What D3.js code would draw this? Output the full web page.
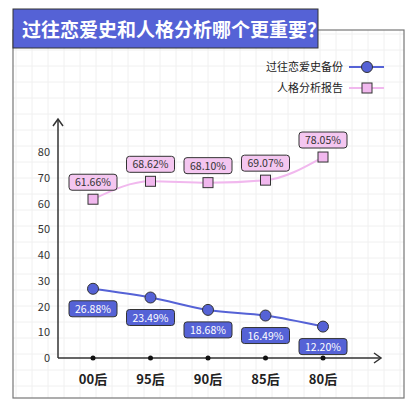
<!DOCTYPE html><html><head><meta charset="utf-8"><script src="https://cdn.jsdelivr.net/npm/d3@7"></script>
<style>body{margin:0;background:#fff}text{font-family:"Noto Sans CJK SC","Noto Sans",sans-serif}</style></head><body>
<svg id="c" width="415" height="415"></svg>
<script>
const categories=["00后","95后","90后","85后","80后"];
const seriesNames=["过往恋爱史备份","人格分析报告"];
const loveHistory=[26.88,23.49,18.68,16.49,12.20];
const personality=[61.66,68.62,68.10,69.07,78.05];
const yTicks=[0,10,20,30,40,50,60,70,80];
const svg=d3.select("#c");
// grid background
const g0=svg.append("g");
for(let x=16;x<404;x+=16)g0.append("line").attr("x1",x).attr("x2",x).attr("y1",30).attr("y2",398).attr("stroke","#f0f0f0");
for(let y=34;y<398;y+=16)g0.append("line").attr("y1",y).attr("y2",y).attr("x1",13).attr("x2",404).attr("stroke","#f0f0f0");
svg.append("rect").attr("x",13).attr("y",30).attr("width",391).attr("height",368).attr("fill","none").attr("stroke","#777").attr("stroke-width",1.2);
svg.append("rect").attr("x",13).attr("y",9).attr("width",305).attr("height",39).attr("fill","#5562d6").attr("stroke","#333").attr("stroke-width",1);
svg.append("text").attr("x",22).attr("y",37).attr("fill","#fff").attr("font-size",19).attr("font-weight","bold").text("过往恋爱史和人格分析哪个更重要？");
const x=d3.scalePoint().domain(categories).range([93,323]);
const y=d3.scaleLinear().domain([0,80]).range([358,152]);
const ax=svg.append("g");
ax.append("line").attr("x1",58).attr("x2",380).attr("y1",358).attr("y2",358).attr("stroke","#333").attr("stroke-width",1.5);
ax.append("path").attr("d","M374,353L381,358L374,363").attr("fill","none").attr("stroke","#333").attr("stroke-width",1.5);
ax.append("line").attr("x1",58).attr("x2",58).attr("y1",358).attr("y2",120).attr("stroke","#333").attr("stroke-width",1.5);
ax.append("path").attr("d","M53,126L58,119L63,126").attr("fill","none").attr("stroke","#333").attr("stroke-width",1.5);
yTicks.forEach(t=>ax.append("text").attr("x",50).attr("y",y(t)+4).attr("text-anchor","end").attr("font-size",11).attr("fill","#333").text(t));
categories.forEach(c=>{ax.append("circle").attr("cx",x(c)).attr("cy",358).attr("r",2.5).attr("fill","#111");
 ax.append("text").attr("x",x(c)).attr("y",384).attr("text-anchor","middle").attr("font-size",13).attr("font-weight","bold").attr("fill","#222").text(c);});
const line=d3.line().x((d,i)=>x(categories[i])).y(d=>y(d)).curve(d3.curveMonotoneX);
svg.append("path").attr("d",line(personality)).attr("fill","none").attr("stroke","#f1b8ee").attr("stroke-width",2);
svg.append("path").attr("d",line(loveHistory)).attr("fill","none").attr("stroke","#5562d6").attr("stroke-width",2);
function label(cx,cy,txt,fill,col){const w=48,h=16;
 svg.append("rect").attr("x",cx-w/2).attr("y",cy-h/2).attr("width",w).attr("height",h).attr("rx",3).attr("fill",fill).attr("stroke","#333").attr("stroke-width",1);
 svg.append("text").attr("x",cx).attr("y",cy+4).attr("text-anchor","middle").attr("font-size",10.5).attr("fill",col).text(txt);}
personality.forEach((v,i)=>{const cx=x(categories[i]),cy=y(v);
 svg.append("rect").attr("x",cx-5).attr("y",cy-5).attr("width",10).attr("height",10).attr("fill","#f1b8ee").attr("stroke","#333");
 label(cx,cy-17,v.toFixed(2)+"%","#f4c6f0","#333");});
loveHistory.forEach((v,i)=>{const cx=x(categories[i]),cy=y(v);
 svg.append("circle").attr("cx",cx).attr("cy",cy).attr("r",5.5).attr("fill","#5562d6").attr("stroke","#333");
 label(cx,cy+20,v.toFixed(2)+"%","#5562d6","#fff");});
// legend
[["#5562d6","c"],["#f1b8ee","s"]].forEach((d,i)=>{const ly=67+i*21;
 svg.append("text").attr("x",343).attr("y",ly+4).attr("text-anchor","end").attr("font-size",11).attr("fill","#222").text(seriesNames[i]);
 svg.append("line").attr("x1",349).attr("x2",384).attr("y1",ly).attr("y2",ly).attr("stroke",d[0]).attr("stroke-width",2);
 if(d[1]=="c")svg.append("circle").attr("cx",367).attr("cy",ly).attr("r",5.5).attr("fill",d[0]).attr("stroke","#333");
 else svg.append("rect").attr("x",362).attr("y",ly-5).attr("width",10).attr("height",10).attr("fill",d[0]).attr("stroke","#333");});
</script></body></html>
